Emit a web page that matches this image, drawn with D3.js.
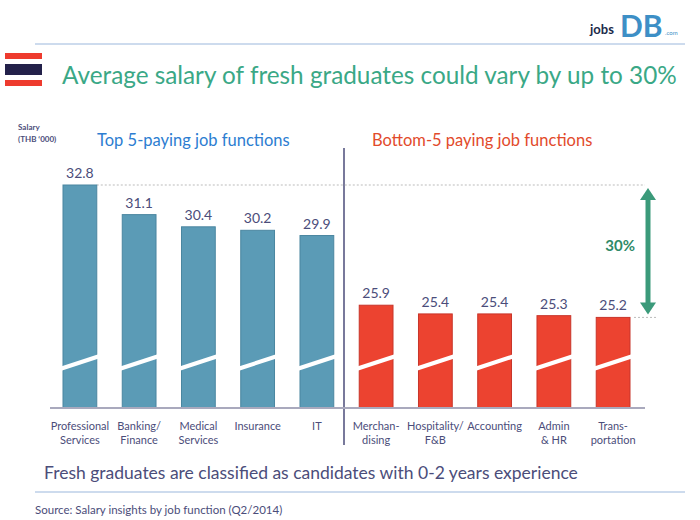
<!DOCTYPE html>
<html><head><meta charset="utf-8">
<script src="https://cdn.jsdelivr.net/npm/d3@7"></script>
<style>body{margin:0;background:#fff}text{font-family:Lato,"DejaVu Sans",sans-serif}</style>
</head><body><div id="chart"></div>
<script>
// data
var topJobs = ["Professional|Services", "Banking/|Finance", "Medical|Services", "Insurance", "IT"];
var topValues = [32.8, 31.1, 30.4, 30.2, 29.9];
var bottomJobs = ["Merchan-|dising", "Hospitality/|F&B", "Accounting", "Admin|& HR", "Trans-|portation"];
var bottomValues = [25.9, 25.4, 25.4, 25.3, 25.2];

var width = 700, height = 520;
var svg = d3.select("#chart").append("svg").attr("width", width).attr("height", height);

var cats = topJobs.concat(bottomJobs);
var vals = topValues.concat(bottomValues);

var x = d3.scaleBand().domain(d3.range(10)).range([63, 630]).paddingInner(0.43).paddingOuter(0);
var y = d3.scaleLinear().domain([20, 32.8]).range([408, 185]);

var navy = "#4b4d7a";

// header
svg.append("line").attr("x1", 35).attr("x2", 685).attr("y1", 44).attr("y2", 44).attr("stroke", "#9bb7dc");
svg.append("text").attr("x", 590).attr("y", 34).attr("font-size", 13).attr("font-weight", "bold").attr("fill", "#1b2a4a").text("jobs");
svg.append("text").attr("x", 620).attr("y", 37).attr("font-size", 30).attr("font-weight", "bold").attr("fill", "#3d8fc6").text("DB");
svg.append("text").attr("x", 665).attr("y", 35).attr("font-size", 6).attr("fill", "#3d8fc6").text(".com");
// flag
svg.append("rect").attr("x", 5).attr("y", 53).attr("width", 37).attr("height", 6).attr("fill", "#ee3b2e");
svg.append("rect").attr("x", 5).attr("y", 64).attr("width", 37).attr("height", 11).attr("fill", "#23214a");
svg.append("rect").attr("x", 5).attr("y", 80).attr("width", 37).attr("height", 6).attr("fill", "#ee3b2e");
svg.append("text").attr("x", 62).attr("y", 84).attr("font-size", 24.3).attr("fill", "#3aa886").text("Average salary of fresh graduates could vary by up to 30%");

// axis title & section labels
svg.append("text").attr("x", 18).attr("y", 130).attr("font-size", 8).attr("font-weight", "bold").attr("fill", navy).text("Salary");
svg.append("text").attr("x", 18).attr("y", 142).attr("font-size", 8).attr("font-weight", "bold").attr("fill", navy).text("(THB \u2018000)");
svg.append("text").attr("x", 97).attr("y", 146).attr("font-size", 16.5).attr("fill", "#2c7dd1").text("Top 5-paying job functions");
svg.append("text").attr("x", 372).attr("y", 146).attr("font-size", 16.5).attr("fill", "#e24a2b").text("Bottom-5 paying job functions");

// divider
svg.append("line").attr("x1", 344).attr("x2", 344).attr("y1", 148).attr("y2", 445).attr("stroke", navy).attr("stroke-width", 1.5);

// reference dotted lines
svg.append("line").attr("x1", x(0) + x.bandwidth()).attr("x2", 645).attr("y1", y(32.8)).attr("y2", y(32.8))
  .attr("stroke", "#bbb").attr("stroke-dasharray", "2,2");
svg.append("line").attr("x1", x(9) + x.bandwidth() + 4).attr("x2", 656).attr("y1", y(25.2)).attr("y2", y(25.2))
  .attr("stroke", "#bbb").attr("stroke-dasharray", "2,2");

// bars
svg.selectAll("rect.bar").data(vals).enter().append("rect").attr("class", "bar")
  .attr("x", function(d, i){ return x(i); })
  .attr("y", function(d){ return y(d); })
  .attr("width", x.bandwidth())
  .attr("height", function(d){ return y(20) - y(d); })
  .attr("fill", function(d, i){ return i < 5 ? "#5b9bb6" : "#ec4330"; })
  .attr("stroke", function(d, i){ return i < 5 ? "#4a86a0" : "#c8352a"; });

// break marks
svg.selectAll("path.brk").data(vals).enter().append("path")
  .attr("d", function(d, i){
    var x0 = x(i) - 3, x1 = x(i) + x.bandwidth() + 3;
    return "M" + x0 + "," + 369 + "L" + x1 + "," + 356;
  })
  .attr("stroke", "#fff").attr("stroke-width", 4).attr("fill", "none");

// value labels
svg.selectAll("text.val").data(vals).enter().append("text")
  .attr("x", function(d, i){ return x(i) + x.bandwidth() / 2; })
  .attr("y", function(d){ return y(d) - 7; })
  .attr("text-anchor", "middle").attr("font-size", 14).attr("fill", navy)
  .text(function(d){ return d.toFixed(1); });

// baseline
svg.append("line").attr("x1", 50).attr("x2", 645).attr("y1", y(20)).attr("y2", y(20)).attr("stroke", "#a9a9bd").attr("stroke-width", 2);

// category labels
svg.selectAll("text.cat").data(cats).enter().append("text")
  .attr("text-anchor", "middle").attr("font-size", 11).attr("fill", navy)
  .attr("transform", function(d, i){ return "translate(" + (x(i) + x.bandwidth() / 2) + ",430)"; })
  .each(function(d){
    var t = d3.select(this);
    d.split("|").forEach(function(s, j){ t.append("tspan").attr("x", 0).attr("dy", j ? 14 : 0).text(s); });
  });

// 30% arrow
var ax = 648;
svg.append("line").attr("x1", ax).attr("x2", ax).attr("y1", y(32.8) + 14).attr("y2", y(25.2) - 14).attr("stroke", "#3b9a7a").attr("stroke-width", 5);
svg.append("path").attr("d", "M" + (ax - 8) + "," + (y(32.8) + 15) + "L" + ax + "," + (y(32.8) + 3) + "L" + (ax + 8) + "," + (y(32.8) + 15) + "Z").attr("fill", "#3b9a7a");
svg.append("path").attr("d", "M" + (ax - 8) + "," + (y(25.2) - 15) + "L" + ax + "," + (y(25.2) - 3) + "L" + (ax + 8) + "," + (y(25.2) - 15) + "Z").attr("fill", "#3b9a7a");
svg.append("text").attr("x", 635).attr("y", 251).attr("text-anchor", "end").attr("font-size", 15).attr("font-weight", "bold").attr("fill", "#2f8a68").text("30%");

// footer
svg.append("text").attr("x", 44).attr("y", 479).attr("font-size", 17.5).attr("fill", navy).text("Fresh graduates are classified as candidates with 0-2 years experience");
svg.append("line").attr("x1", 35).attr("x2", 685).attr("y1", 492).attr("y2", 492).attr("stroke", "#9bb7dc");
svg.append("text").attr("x", 35).attr("y", 514).attr("font-size", 11.5).attr("fill", navy).text("Source: Salary insights by job function (Q2/2014)");
</script></body></html>
